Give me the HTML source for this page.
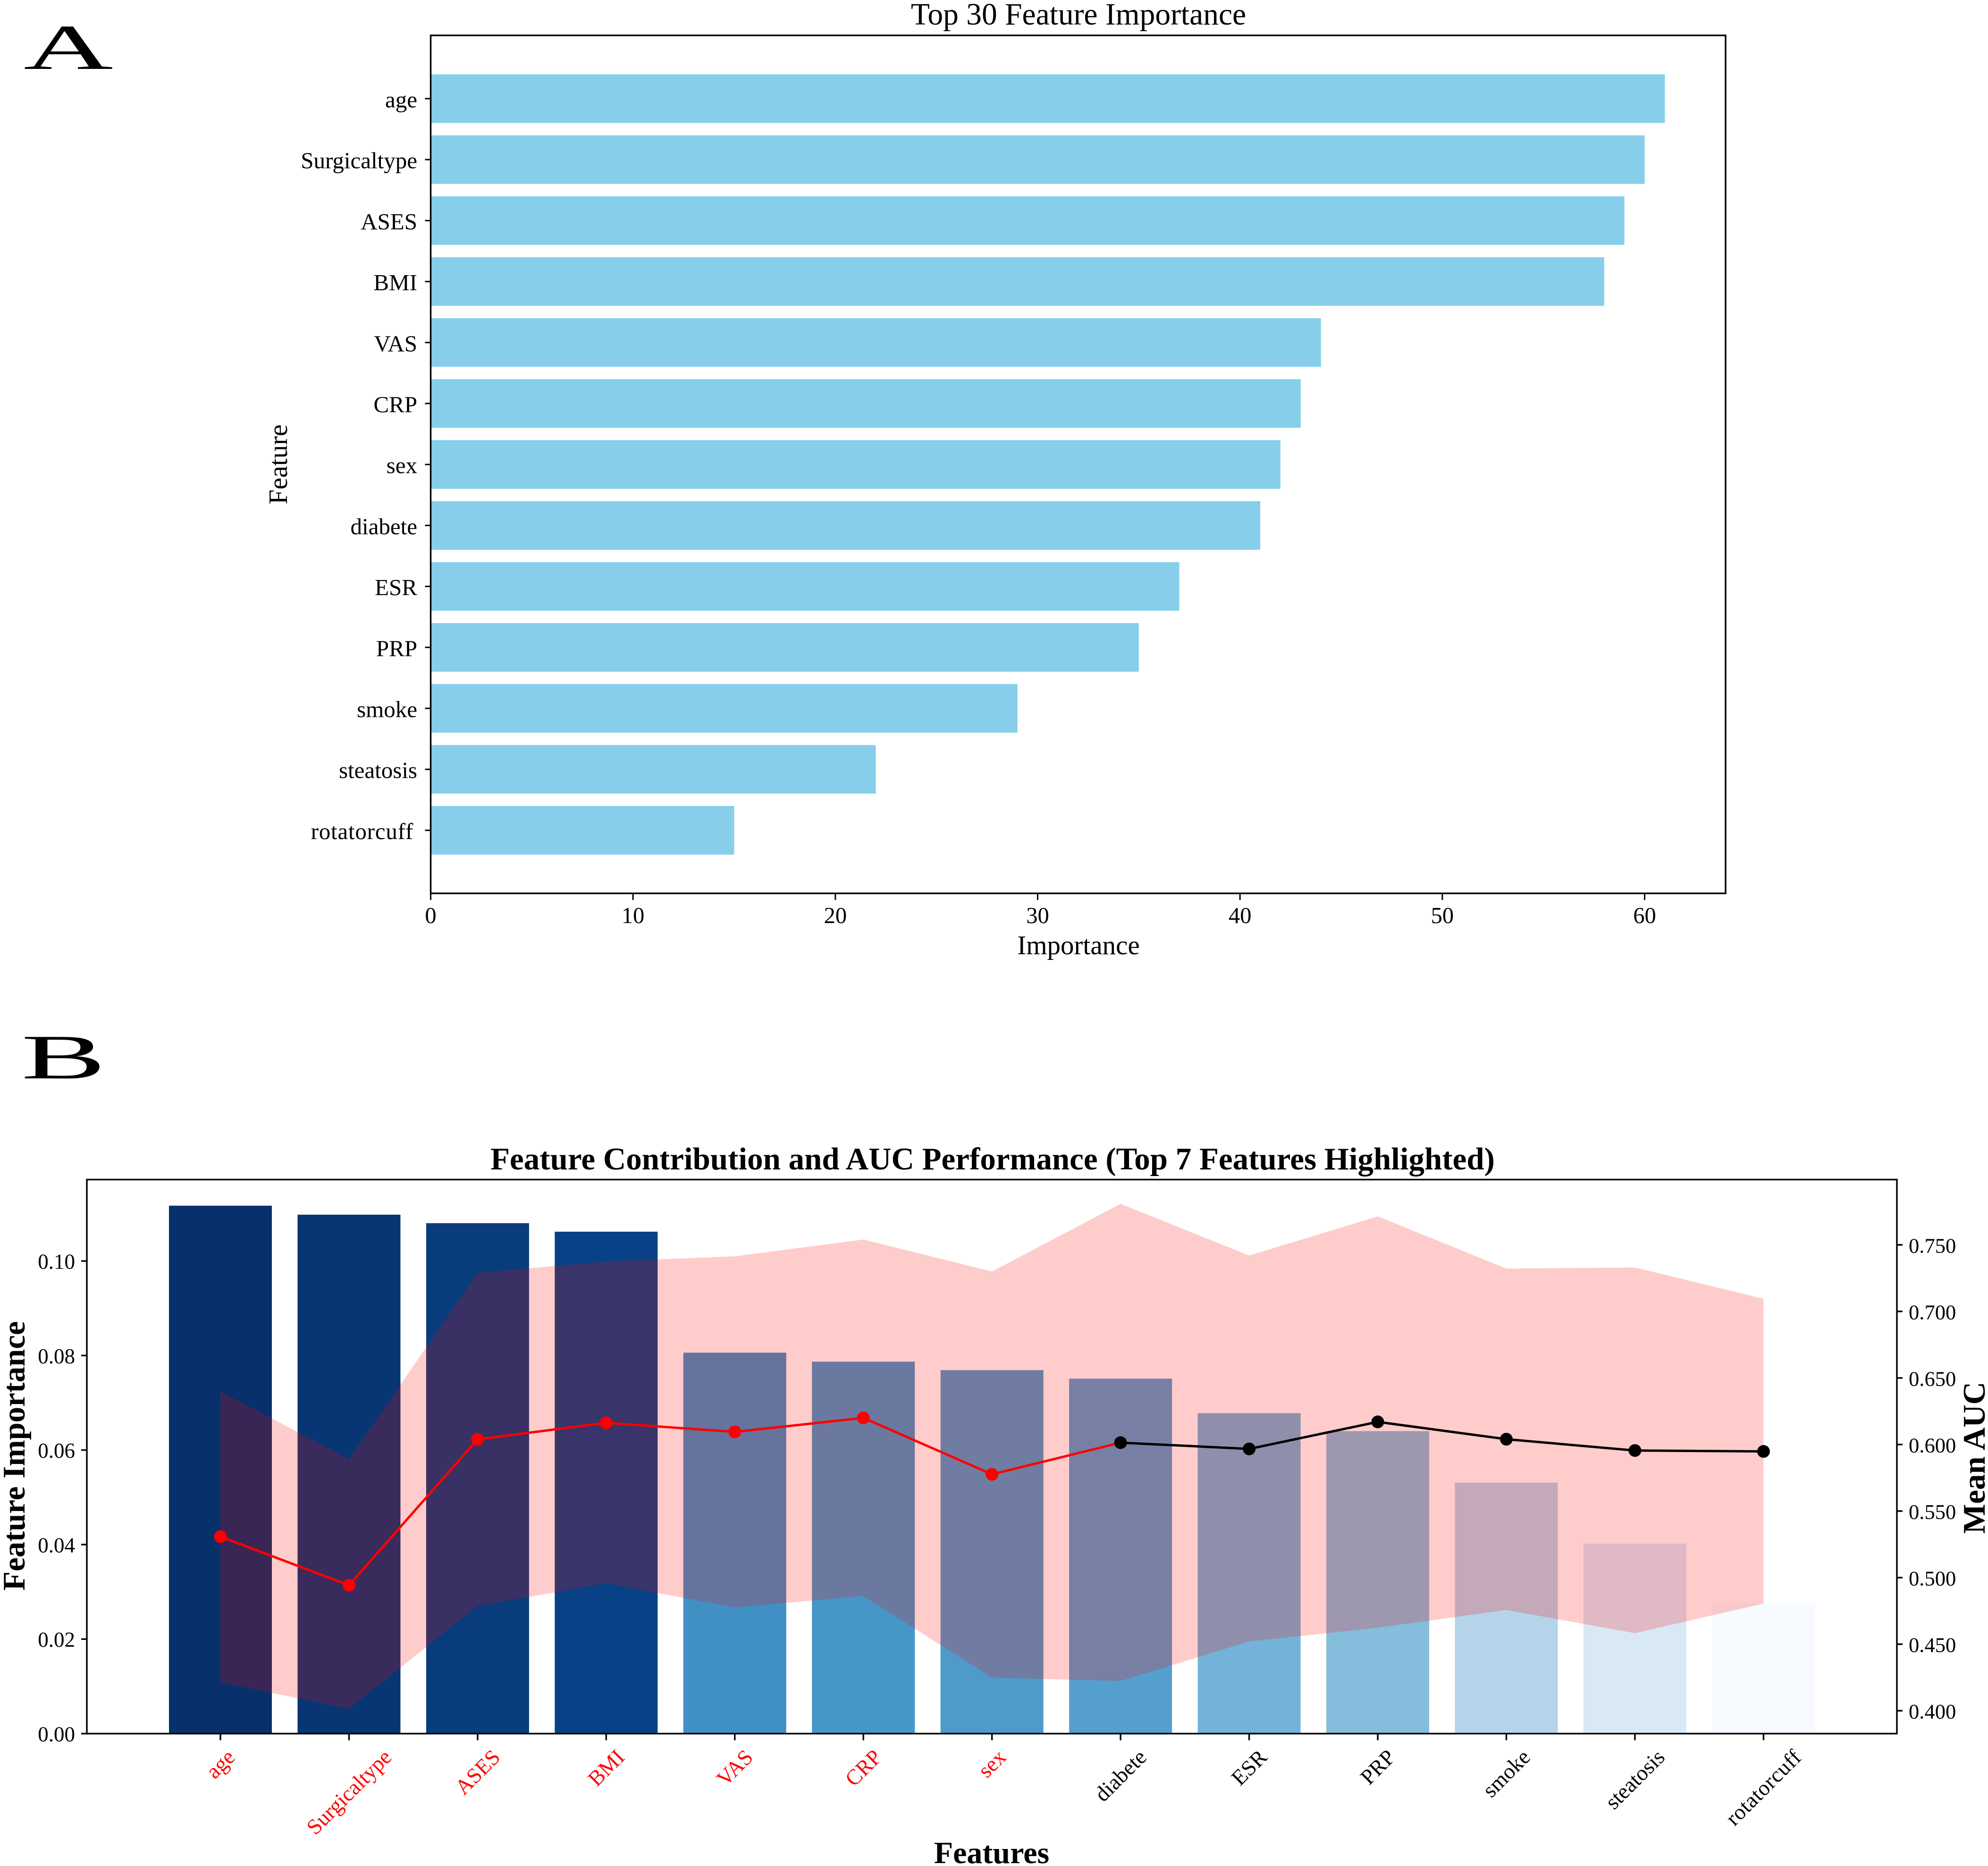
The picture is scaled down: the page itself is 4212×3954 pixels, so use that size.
<!DOCTYPE html>
<html lang="en">
<head>
<meta charset="utf-8">
<title>Feature importance and AUC performance</title>
<style>
html,body{margin:0;padding:0;background:#fff;}
svg{display:block;font-family:"Liberation Serif",serif;}
</style>
</head>
<body>
<svg id="figure" xmlns="http://www.w3.org/2000/svg" width="4212" height="3954" viewBox="0 0 4212 3954">
  <rect width="4212" height="3954" fill="#fff"/>
  <text transform="translate(50 146) scale(1.93 1)" font-size="136" fill="#000">A</text>
  <text transform="translate(45 2285) scale(2 1)" font-size="134" fill="#000">B</text>
  <g id="panelA"></g>
  <g id="panelB"></g>
  <text x="2285" y="52" font-size="65.5" text-anchor="middle">Top 30 Feature Importance</text>
  <text x="2285" y="2022" font-size="57" text-anchor="middle">Importance</text>
  <text transform="translate(608 984) rotate(-90)" font-size="56.5" text-anchor="middle">Feature</text>
  <text x="2103" y="2478" font-size="67" font-weight="bold" text-anchor="middle">Feature Contribution and AUC Performance (Top 7 Features Highlighted)</text>
  <text x="2101" y="3948" font-size="66" font-weight="bold" text-anchor="middle">Features</text>
  <text transform="translate(52 3085) rotate(-90)" font-size="66.7" font-weight="bold" text-anchor="middle">Feature Importance</text>
  <text transform="translate(4205 3089) rotate(-90)" font-size="67" font-weight="bold" text-anchor="middle">Mean AUC</text>
</svg>
<script>
const featureNames = ["age","Surgicaltype","ASES","BMI","VAS","CRP","sex","diabete","ESR","PRP","smoke","steatosis","rotatorcuff"];
const importanceCounts = [61,60,59,58,44,43,42,41,37,35,29,22,15];
const importanceTicks = [0,10,20,30,40,50,60];
const featureImportance = [0.1117,0.1098,0.108,0.1062,0.0806,0.0787,0.0769,0.0751,0.0678,0.064,0.0531,0.0402,0.02745];
const meanAuc = [0.5308,0.4943,0.6039,0.6163,0.6095,0.62,0.5776,0.6014,0.5967,0.617,0.604,0.5955,0.5948];
const aucUpper = [0.64,0.589,0.729,0.7375,0.7414,0.754,0.73,0.7808,0.742,0.7714,0.7322,0.733,0.7095];
const aucLower = [0.4213,0.4015,0.4787,0.4957,0.4776,0.4862,0.4248,0.4224,0.452,0.4624,0.4757,0.4583,0.4805];
const importanceAxisTicks = [0,0.02,0.04,0.06,0.08,0.10];
const importanceAxisLabels = ["0.00","0.02","0.04","0.06","0.08","0.10"];
const aucAxisTicks = [0.4,0.45,0.5,0.55,0.6,0.65,0.7,0.75];
const aucAxisLabels = ["0.400","0.450","0.500","0.550","0.600","0.650","0.700","0.750"];
const highlightedCount = 7;

const NS = "http://www.w3.org/2000/svg";
const panelA = document.getElementById("panelA");
const panelB = document.getElementById("panelB");
function linear(d0,d1,r0,r1){return v => r0 + (v-d0)*(r1-r0)/(d1-d0);}
function make(parent,tag,props,text){
  const el = document.createElementNS(NS,tag);
  for(const k in props){el.setAttribute(k,props[k]);}
  if(text!==undefined){el.textContent=text;}
  parent.appendChild(el);
  return el;
}
const BLUES = [[247,251,255],[222,235,247],[198,219,239],[158,202,225],[107,174,214],[66,146,198],[33,113,181],[8,81,156],[8,48,107]];
function blues(t){
  const p = Math.max(0,Math.min(1,t))*(BLUES.length-1);
  const i = Math.min(Math.floor(p),BLUES.length-2);
  const f = p-i;
  const c = [0,1,2].map(k => Math.round(BLUES[i][k]+(BLUES[i+1][k]-BLUES[i][k])*f));
  return "rgb("+c.join(",")+")";
}

/* ---------- Panel A ---------- */
const A = {left:912.5,right:3656,top:75,bottom:1893,firstY:209,step:129.2,barH:103};
const xA = linear(0,64,A.left,A.right);
const yA = i => A.firstY + i*A.step;

featureNames.forEach((name,i)=>{
  const bar = make(panelA,"rect",{x:xA(0),y:yA(i)-A.barH/2,width:xA(importanceCounts[i])-xA(0),height:A.barH,fill:"#87ceeb"});
  
  
  const tick = make(panelA,"line",{x1:A.left-12,x2:A.left,y1:yA(i),y2:yA(i),stroke:"#000","stroke-width":3});
  
  
  const hasWideFf = name.indexOf("ff")>=0;
  const label = make(panelA,"text",{x:hasWideFf?876:884,y:yA(i)+18.5,"font-size":49,"text-anchor":"end",fill:"#000","letter-spacing":hasWideFf?0.8:0},name);
  
  
});
importanceTicks.forEach(v=>{
  const tick = make(panelA,"line",{x1:xA(v),x2:xA(v),y1:A.bottom,y2:A.bottom+14,stroke:"#000","stroke-width":3});
  
  
  const label = make(panelA,"text",{x:xA(v),y:1956,"font-size":48.5,"text-anchor":"middle",fill:"#000"},String(v));
  
  
});
const frameA = make(panelA,"rect",{x:A.left,y:A.top,width:A.right-A.left,height:A.bottom-A.top,fill:"none",stroke:"#000","stroke-width":3.4});



/* ---------- Panel B ---------- */
const B = {left:184,right:4019,top:2499.5,bottom:3673.5,firstX:467,step:272.45,barW:218};
const xB = i => B.firstX + i*B.step;
const yB = linear(0,0.1,3673.5,2672);
const yR = linear(0.4,0.75,3625,2637.8);
const impMin = Math.min(...featureImportance);
const impMax = Math.max(...featureImportance);

featureNames.forEach((name,i)=>{
  const bar = make(panelB,"rect",{x:xB(i)-B.barW/2,y:yB(featureImportance[i]),width:B.barW,height:yB(0)-yB(featureImportance[i]),fill:blues((featureImportance[i]-impMin)/(impMax-impMin))});
  
  
});

const bandPts = featureNames.map((_,i)=>xB(i)+","+yR(aucUpper[i]))
  .concat(featureNames.map((_,i)=>xB(i)+","+yR(aucLower[i])).reverse());
const band = make(panelB,"polygon",{points:bandPts.join(" "),fill:"#ff0000","fill-opacity":0.2});



for(let i=0;i<featureNames.length-1;i++){
  const seg = make(panelB,"line",{x1:xB(i),y1:yR(meanAuc[i]),x2:xB(i+1),y2:yR(meanAuc[i+1]),stroke:i<highlightedCount?"#ff0000":"#000","stroke-width":5});
  
  
}
featureNames.forEach((name,i)=>{
  const pt = make(panelB,"circle",{cx:xB(i),cy:yR(meanAuc[i]),r:13.5,fill:i<highlightedCount?"#ff0000":"#000"});
  
  
  const tick = make(panelB,"line",{x1:xB(i),x2:xB(i),y1:B.bottom,y2:B.bottom+14,stroke:"#000","stroke-width":3.4});
  
  
  const label = make(panelB,"text",{"font-size":46,"text-anchor":"middle",dy:"0.33em",fill:i<highlightedCount?"#ff0000":"#000","letter-spacing":name.indexOf("ff")>=0?0.8:0},name);
  
  
  const len = label.getComputedTextLength();
  const cy = 3700 + (len+46*0.95)*Math.SQRT1_2/2;
  label.setAttribute("transform","translate("+xB(i)+" "+cy+") rotate(-45)");
});
importanceAxisTicks.forEach((v,i)=>{
  const tick = make(panelB,"line",{x1:B.left-12,x2:B.left,y1:yB(v),y2:yB(v),stroke:"#000","stroke-width":3.4});
  
  
  const label = make(panelB,"text",{x:159,y:yB(v)+16.5,"font-size":45,"text-anchor":"end",fill:"#000"},importanceAxisLabels[i]);
  
  
});
aucAxisTicks.forEach((v,i)=>{
  const tick = make(panelB,"line",{x1:B.right,x2:B.right+12,y1:yR(v),y2:yR(v),stroke:"#000","stroke-width":3.4});
  
  
  const label = make(panelB,"text",{x:4044,y:yR(v)+16.5,"font-size":44.6,"text-anchor":"start",fill:"#000"},aucAxisLabels[i]);
  
  
});
const frameB = make(panelB,"rect",{x:B.left,y:B.top,width:B.right-B.left,height:B.bottom-B.top,fill:"none",stroke:"#000","stroke-width":3.4});


</script>
</body>
</html>
